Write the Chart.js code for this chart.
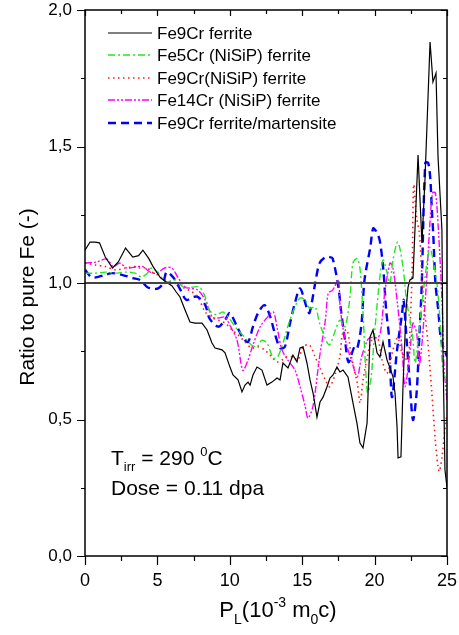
<!DOCTYPE html>
<html>
<head>
<meta charset="utf-8">
<script src="https://cdn.jsdelivr.net/npm/chart.js@4"></script>
<style>
  html, body { margin: 0; padding: 0; background: #fff; }
  #wrap { width: 459px; height: 635px; }
</style>
</head>
<body>
<div id="wrap"><canvas id="chart" width="459" height="635"></canvas></div>
<script>
// Fe9Cr ferrite (black solid)
const fe9crX = [0, 0.35, 0.7, 1.0, 1.4, 1.9, 2.3, 2.8, 3.3, 3.7, 4.0, 4.4, 4.7, 5.2, 5.6, 6.0, 6.3, 6.56, 6.91, 7.25, 7.6, 8.08, 8.43, 8.77, 8.98, 9.46, 9.67, 10.01, 10.22, 10.57, 10.84, 11.05, 11.26, 11.4, 11.6, 11.88, 12.22, 12.57, 12.91, 13.26, 13.47, 13.67, 14.02, 14.36, 14.64, 14.85, 15.06, 15.33, 15.54, 15.75, 16.02, 16.23, 16.44, 16.71, 16.92, 17.13, 17.4, 17.61, 17.82, 18.16, 18.51, 18.78, 18.99, 19.2, 19.48, 19.68, 19.89, 20.17, 20.37, 20.58, 20.86, 21.06, 21.27, 21.41, 21.55, 21.62, 21.82, 21.96, 22.17, 22.31, 22.44, 22.65, 23.0, 23.27, 23.48, 23.83, 24.03, 24.24, 24.38, 24.65, 24.72, 24.86, 25];
const fe9crY = [1.12, 1.15, 1.15, 1.147, 1.095, 1.055, 1.077, 1.128, 1.095, 1.10, 1.12, 1.09, 1.06, 1.02, 1.004, 0.99, 0.967, 0.949, 0.901, 0.857, 0.853, 0.853, 0.828, 0.78, 0.762, 0.755, 0.744, 0.692, 0.663, 0.645, 0.601, 0.626, 0.637, 0.626, 0.663, 0.692, 0.681, 0.626, 0.637, 0.652, 0.645, 0.707, 0.689, 0.736, 0.711, 0.762, 0.766, 0.707, 0.645, 0.597, 0.509, 0.564, 0.582, 0.619, 0.652, 0.663, 0.692, 0.674, 0.681, 0.656, 0.56, 0.487, 0.414, 0.396, 0.487, 0.802, 0.828, 0.744, 0.729, 0.784, 0.718, 0.689, 0.656, 0.597, 0.473, 0.359, 0.363, 0.619, 0.901, 0.985, 1.011, 1.018, 1.469, 1.147, 1.38, 1.883, 1.736, 1.769, 1.462, 1.194, 0.755, 0.315, 0.25];

// Fe5Cr (NiSiP) ferrite (green dash-dot)
const fe5crX = [0, 0.7, 1.4, 2.1, 2.8, 3.45, 3.9, 4.3, 4.6, 5.0, 5.4, 5.7, 6.2, 6.8, 7.4, 7.9, 8.3, 8.6, 9.1, 9.5, 9.9, 10.36, 10.7, 11.2, 11.5, 11.88, 12.2, 12.57, 13.0, 13.3, 13.7, 14.0, 14.4, 14.85, 15.2, 15.5, 15.9, 16.2, 16.7, 16.9, 17.3, 17.6, 17.96, 18.3, 18.5, 18.8, 19.0, 19.2, 19.5, 19.75, 20.0, 20.4, 20.6, 20.86, 21.06, 21.27, 21.6, 21.96, 22.2, 22.6, 22.8, 23.0, 23.35, 23.8, 24.0, 24.3, 24.5, 24.7, 25];
const fe5crY = [1.036, 1.036, 1.04, 1.036, 1.04, 1.036, 1.022, 1.036, 1.055, 1.04, 1.011, 1.004, 1.011, 0.985, 0.985, 0.985, 0.949, 0.90, 0.883, 0.894, 0.875, 0.84, 0.82, 0.79, 0.773, 0.766, 0.79, 0.78, 0.725, 0.729, 0.784, 0.84, 0.90, 0.945, 0.938, 0.908, 0.912, 0.853, 0.784, 0.773, 0.828, 0.864, 0.84, 0.949, 1.073, 1.09, 1.048, 0.89, 0.60, 0.65, 0.817, 1.037, 1.084, 1.037, 1.0, 1.084, 1.15, 1.06, 0.938, 0.817, 0.707, 0.79, 0.963, 1.13, 1.095, 1.0, 0.875, 0.692, 0.62];

// Fe9Cr(NiSiP) ferrite (red dotted)
const fe9crNiX = [0, 0.7, 1.4, 2.1, 2.8, 3.45, 3.8, 4.3, 4.6, 5.0, 5.5, 6.0, 6.4, 6.9, 7.4, 7.8, 8.3, 8.8, 9.2, 9.67, 10.15, 10.57, 11.05, 11.5, 11.95, 12.4, 12.9, 13.26, 13.6, 13.9, 14.36, 14.7, 15.06, 15.5, 15.9, 16.2, 16.6, 16.9, 17.3, 17.6, 17.8, 18.1, 18.4, 18.8, 19.0, 19.2, 19.5, 19.8, 20.2, 20.5, 20.86, 21.27, 21.6, 21.9, 22.3, 22.45, 22.6, 22.7, 22.9, 23.1, 23.35, 23.65, 23.95, 24.2, 24.45, 24.65, 24.85, 25];
const fe9crNiY = [1.073, 1.066, 1.06, 1.048, 1.055, 1.06, 1.055, 1.055, 1.04, 1.03, 1.011, 1.004, 0.993, 0.98, 0.967, 0.949, 0.894, 0.872, 0.864, 0.853, 0.828, 0.81, 0.784, 0.762, 0.766, 0.755, 0.729, 0.711, 0.718, 0.729, 0.729, 0.718, 0.766, 0.773, 0.729, 0.692, 0.645, 0.62, 0.67, 0.729, 0.817, 0.828, 0.729, 0.634, 0.56, 0.645, 0.729, 0.79, 0.80, 0.72, 0.67, 0.755, 0.80, 0.744, 0.718, 0.84, 1.06, 1.36, 1.24, 1.18, 0.95, 0.80, 0.6, 0.42, 0.31, 0.36, 0.46, 0.52];

// Fe14Cr (NiSiP) ferrite (magenta dash-dot-dot)
const fe14crX = [0, 0.8, 1.5, 1.95, 2.4, 2.9, 3.6, 4.0, 4.5, 4.95, 5.5, 6.0, 6.4, 6.9, 7.4, 7.8, 8.3, 8.8, 9.2, 9.67, 10.0, 10.5, 10.9, 11.26, 11.6, 12.1, 12.6, 13.0, 13.3, 13.6, 14.0, 14.5, 14.85, 15.2, 15.4, 15.75, 16.2, 16.6, 16.8, 17.1, 17.5, 17.6, 17.8, 18.1, 18.4, 18.8, 19.1, 19.5, 19.7, 20.2, 20.4, 20.7, 21.06, 21.25, 21.55, 21.9, 22.1, 22.45, 22.65, 22.9, 23.1, 23.5, 23.8, 24.0, 24.2, 24.4, 24.65, 24.8, 25];
const fe14crY = [1.073, 1.077, 1.088, 1.06, 1.073, 1.055, 1.06, 1.06, 1.04, 1.036, 1.055, 1.055, 1.022, 0.985, 0.98, 0.974, 0.938, 0.875, 0.872, 0.875, 0.846, 0.79, 0.68, 0.718, 0.773, 0.84, 0.875, 0.894, 0.828, 0.755, 0.718, 0.681, 0.62, 0.55, 0.505, 0.55, 0.729, 0.864, 0.963, 0.974, 1.011, 0.927, 0.84, 0.766, 0.718, 0.656, 0.729, 0.79, 0.80, 0.80, 0.817, 0.963, 1.073, 1.06, 0.938, 0.755, 0.62, 0.755, 0.853, 0.817, 0.70, 0.938, 1.2, 1.33, 1.33, 1.2, 0.94, 0.69, 0.57];

// Fe9Cr ferrite/martensite (blue dashed)
const fe9crMartX = [0, 0.5, 1.4, 1.85, 2.55, 3.3, 3.8, 4.3, 4.6, 5.05, 5.4, 5.64, 6.1, 6.6, 7.0, 7.5, 7.8, 8.3, 8.6, 9.2, 9.67, 10.0, 10.5, 10.9, 11.26, 11.6, 11.95, 12.4, 12.8, 13.1, 13.47, 13.8, 14.16, 14.5, 14.85, 15.3, 15.5, 15.9, 16.2, 16.6, 16.9, 17.1, 17.5, 17.7, 17.96, 18.2, 18.6, 18.8, 19.1, 19.3, 19.7, 19.9, 20.1, 20.35, 20.6, 20.8, 21.0, 21.2, 21.55, 21.9, 22.0, 22.2, 22.45, 22.65, 22.9, 23.1, 23.25, 23.5, 23.7, 23.85, 23.95, 24.05, 24.2, 24.4, 24.6, 25];
const fe9crMartY = [1.048, 1.02, 1.03, 1.036, 1.03, 1.018, 1.011, 0.985, 0.98, 0.98, 1.0, 1.04, 1.02, 0.974, 0.938, 0.949, 0.949, 0.92, 0.87, 0.84, 0.864, 0.89, 0.84, 0.80, 0.784, 0.84, 0.89, 0.919, 0.875, 0.817, 0.762, 0.766, 0.853, 0.927, 0.98, 0.912, 0.89, 1.0, 1.073, 1.095, 1.095, 1.09, 0.985, 0.89, 0.79, 0.71, 0.766, 0.76, 0.853, 1.01, 1.13, 1.2, 1.19, 1.157, 1.05, 0.90, 0.80, 0.582, 0.755, 0.89, 0.938, 0.80, 0.62, 0.498, 0.597, 0.817, 0.985, 1.44, 1.44, 1.38, 1.27, 1.18, 1.0, 0.90, 0.79, 0.73];

const refX = [0, 25];
const refY = [1, 1];

const xTicks = [0, 5, 10, 15, 20, 25];
const yTicks = [0, 0.5, 1.0, 1.5, 2.0];

const pts = (xs, ys) => xs.map((x, i) => ({ x: x, y: ys[i] }));

const FONT = "'Liberation Sans', Arial, sans-serif";

// series shown in legend, in order
const seriesDefs = [
    { label: 'Fe9Cr ferrite', x: fe9crX, y: fe9crY, color: '#000000', dash: [], width: 1.2, tension: 0 },
    { label: 'Fe5Cr (NiSiP) ferrite', x: fe5crX, y: fe5crY, color: '#22e622', dash: [7, 3, 2, 3], width: 1.4, tension: 0.3 },
    { label: 'Fe9Cr(NiSiP) ferrite', x: fe9crNiX, y: fe9crNiY, color: '#ff1a1a', dash: [1.5, 3.5], width: 1.6, tension: 0.3 },
    { label: 'Fe14Cr (NiSiP) ferrite', x: fe14crX, y: fe14crY, color: '#ff00ff', dash: [7, 2, 2, 2, 2, 2], width: 1.4, tension: 0.3 },
    { label: 'Fe9Cr ferrite/martensite', x: fe9crMartX, y: fe9crMartY, color: '#0000ff', dash: [8, 5], width: 2.4, tension: 0.3 }
];

const datasets = seriesDefs.map(s => ({
    label: s.label,
    data: pts(s.x, s.y),
    borderColor: s.color,
    borderDash: s.dash,
    borderWidth: s.width,
    pointRadius: 0,
    fill: false,
    tension: s.tension
}));

// horizontal reference at 1,0
datasets.unshift({
    label: 'ref',
    data: pts(refX, refY),
    borderColor: '#444444',
    borderWidth: 1.8,
    pointRadius: 0,
    fill: false
});

// draws text with sub/superscript pieces: [text, mode] where mode is '', 'sub', 'sup'
function richText(ctx, parts, x, y, size) {
    let cx = x;
    parts.forEach(([txt, mode]) => {
        const s = mode ? Math.round(size * 0.62) : size;
        ctx.font = s + 'px ' + FONT;
        const dy = mode === 'sub' ? size * 0.3 : mode === 'sup' ? -size * 0.45 : 0;
        ctx.fillText(txt, cx, y + dy);
        cx += ctx.measureText(txt).width;
    });
    return cx - x;
}

function richWidth(ctx, parts, size) {
    let w = 0;
    parts.forEach(([txt, mode]) => {
        const s = mode ? Math.round(size * 0.62) : size;
        ctx.font = s + 'px ' + FONT;
        w += ctx.measureText(txt).width;
    });
    return w;
}

const decorPlugin = {
    id: 'decor',
    afterDraw(chart) {
        const ctx = chart.ctx;
        const ca = chart.chartArea;
        const xs = chart.scales.x, ys = chart.scales.y;
        ctx.save();

        // frame
        ctx.strokeStyle = '#000';
        ctx.lineWidth = 1.5;
        ctx.strokeRect(ca.left, ca.top, ca.right - ca.left, ca.bottom - ca.top);

        // ticks
        ctx.lineWidth = 1.2;
        ctx.beginPath();
        for (let v = 0; v <= 25.001; v += 2.5) {
            const px = Math.round(xs.getPixelForValue(v)) + 0.5;
            const major = Math.abs(v % 5) < 0.01;
            ctx.moveTo(px, ca.bottom); ctx.lineTo(px, ca.bottom + (major ? 9 : 5));
            ctx.moveTo(px, ca.top); ctx.lineTo(px, ca.top + (major ? 6 : 4));
        }
        for (let v = 0; v <= 2.001; v += 0.25) {
            const py = Math.round(ys.getPixelForValue(v)) + 0.5;
            const major = Math.abs((v * 2) % 1) < 0.01;
            ctx.moveTo(ca.left, py); ctx.lineTo(ca.left - (major ? 8 : 4), py);
            ctx.moveTo(ca.right, py); ctx.lineTo(ca.right - (major ? 6 : 4), py);
        }
        ctx.stroke();

        ctx.fillStyle = '#000';
        ctx.textBaseline = 'alphabetic';
        ctx.textAlign = 'left';

        // x title: P_L(10^-3 m_0c)
        const xParts = [['P', ''], ['L', 'sub'], ['(10', ''], ['-3', 'sup'], [' m', ''], ['0', 'sub'], ['c)', '']];
        const xw = richWidth(ctx, xParts, 22);
        richText(ctx, xParts, (ca.left + ca.right) / 2 - xw / 2 + 12, 617, 22);

        // y title
        ctx.save();
        ctx.translate(34, (ca.top + ca.bottom) / 2 + 14);
        ctx.rotate(-Math.PI / 2);
        ctx.font = '21px ' + FONT;
        ctx.textAlign = 'center';
        ctx.fillText('Ratio to pure Fe (-)', 0, 0);
        ctx.restore();

        // annotation
        richText(ctx, [['T', ''], ['irr', 'sub'], [' = 290 ', ''], ['0', 'sup'], ['C', '']], 111, 465, 21);
        richText(ctx, [['Dose = 0.11 dpa', '']], 111, 495, 21);

        // legend
        const rowY = [33, 55, 78, 100, 123];
        seriesDefs.forEach((s, i) => {
            const y = rowY[i];
            ctx.save();
            ctx.strokeStyle = s.color;
            ctx.lineWidth = s.width;
            ctx.setLineDash(s.dash);
            ctx.beginPath();
            ctx.moveTo(108, y);
            ctx.lineTo(152, y);
            ctx.stroke();
            ctx.restore();
            ctx.font = '17px ' + FONT;
            ctx.textBaseline = 'middle';
            ctx.fillText(s.label, 157, y + 1);
            ctx.textBaseline = 'alphabetic';
        });

        ctx.restore();
    }
};

new Chart(document.getElementById('chart').getContext('2d'), {
    type: 'line',
    data: { datasets: datasets },
    options: {
        responsive: false,
        animation: false,
        layout: { padding: { top: 0, right: 1, left: 0, bottom: 0 } },
        plugins: { legend: { display: false }, tooltip: { enabled: false } },
        scales: {
            x: {
                type: 'linear',
                min: 0, max: 25,
                afterFit: scale => { scale.height = 79; scale.paddingRight = 12; scale.paddingLeft = 0; },
                afterBuildTicks: scale => { scale.ticks = xTicks.map(v => ({ value: v })); },
                grid: { display: false, drawTicks: false },
                border: { display: false },
                ticks: {
                    color: '#000',
                    font: { family: FONT, size: 18 },
                    padding: 14,
                    maxRotation: 0,
                    callback: v => String(v)
                }
            },
            y: {
                min: 0, max: 2,
                afterFit: scale => { scale.width = 85; scale.paddingTop = 10; scale.paddingBottom = 0; },
                afterBuildTicks: scale => { scale.ticks = yTicks.map(v => ({ value: v })); },
                grid: { display: false, drawTicks: false },
                border: { display: false },
                ticks: {
                    color: '#000',
                    font: { family: FONT, size: 17 },
                    padding: 13,
                    callback: v => v.toFixed(1).replace('.', ',')
                }
            }
        }
    },
    plugins: [decorPlugin]
});
</script>
</body>
</html>
